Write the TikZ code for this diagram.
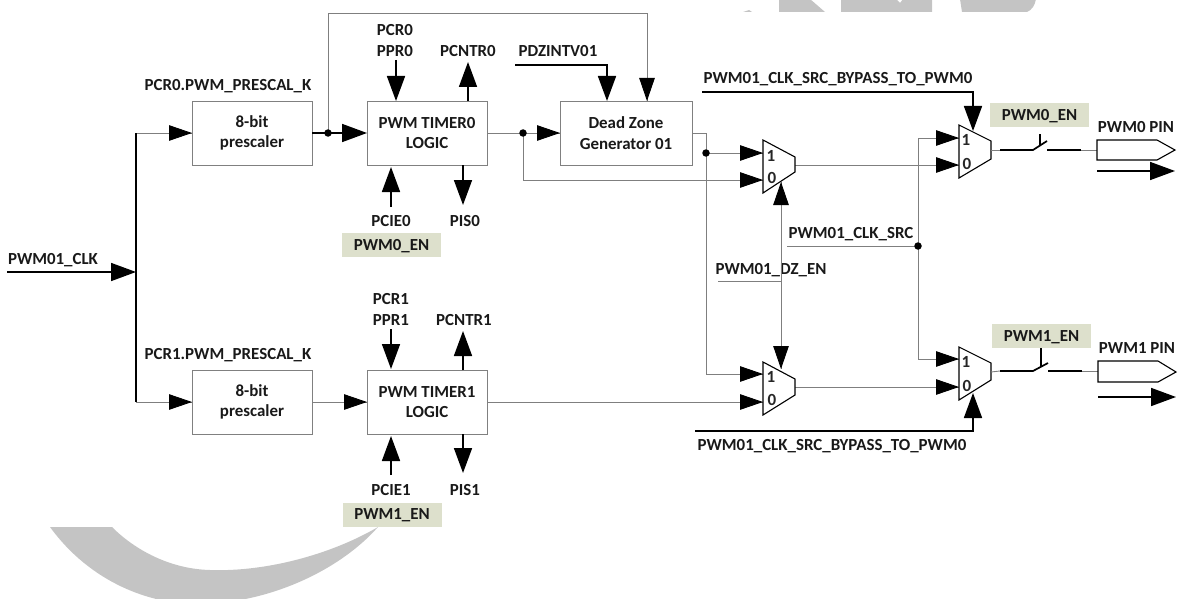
\documentclass[tikz,border=0pt]{standalone}
\usepackage{fontspec}
\setmainfont{Carlito}
\usetikzlibrary{arrows.meta,calc}
\definecolor{wirecol}{HTML}{7F7F7F}
\definecolor{boxcol}{HTML}{808080}
\definecolor{tagcol}{HTML}{DDE0CC}
\definecolor{markcol}{HTML}{C4C4C4}
\tikzset{
  lbl/.style={font=\fontsize{16.9}{18}\selectfont\bfseries,text=black!90,inner sep=0pt,outer sep=0pt,text depth=0pt},
  pinlbl/.style={font=\fontsize{17}{18}\selectfont\bfseries,text=black!85,inner sep=0pt},
  block/.style={draw=boxcol,line width=0.9pt,fill=white,align=center,font=\fontsize{16.9}{20.5}\selectfont\bfseries,text=black!90,inner sep=0pt,outer sep=0pt,minimum height=64pt},
  tag/.style={fill=tagcol,font=\fontsize{16.9}{18}\selectfont\bfseries,text=black!90,inner sep=0pt,outer sep=0pt,minimum height=24pt,minimum width=99pt,text depth=0pt},
  wire/.style={draw=wirecol,line width=0.9pt},
  bus/.style={draw=black,line width=1.7pt},
  tipL/.style={-{Triangle[length=25pt,width=18pt,black]}},
  tipS/.style={-{Triangle[length=23pt,width=15.5pt,black]}},
  muxbody/.style={draw=black,line width=1.1pt,fill=white,line join=miter},
  jdot/.style={circle,fill=black,inner sep=0pt,minimum size=7.5pt,outer sep=0pt},
  pinbody/.style={draw=black,line width=1.1pt},
  swtick/.style={draw=black,line width=1.1pt},
}
\begin{document}
\begin{tikzpicture}[x=1pt,y=-1pt]
\useasboundingbox (0,0) rectangle (1177,599);
% faint background artwork
\begin{scope}
\clip (0,0) rectangle (1177,599);
\fill[markcol] (50,527) .. controls (90,582) and (150,605) .. (200,604) .. controls (270,603) and (340,570) .. (378,527) .. controls (330,555) and (265,572) .. (210,570) .. controls (170,569) and (135,550) .. (112,527) -- cycle;
\fill[markcol] (779,-1) -- (779,12) -- (825,12) -- (810,-1) -- cycle;
\fill[markcol] (841,-1) -- (841,12) -- (932,12) -- (932,-1) -- (903,-1) -- (900,3) -- (896,-1) -- cycle;
\fill[markcol] (960,-1) -- (962,12) -- (1027,12) .. controls (1032,10) and (1035,5) .. (1036,-1) -- cycle;
\fill[markcol] (743,12) -- (749,10) -- (752,12) -- cycle;
\end{scope}

% blocks
\node[block,minimum width=120pt] (p0) at (252,133) {8-bit\\prescaler};
\node[block,minimum width=120pt] (t0) at (427,133) {PWM TIMER0\\LOGIC};
\node[block,minimum width=132pt] (dz) at (626,133) {Dead Zone\\Generator 01};
\node[block,minimum width=120pt] (p1) at (252,402) {8-bit\\prescaler};
\node[block,minimum width=120pt] (t1) at (427,402) {PWM TIMER1\\LOGIC};

% tags
\node[tag] (en0a) at (391.5,245) {PWM0\_EN};
\node[tag] (en1a) at (392,514.5) {PWM1\_EN};
\node[tag] (en0b) at (1039.5,115) {PWM0\_EN};
\node[tag] (en1b) at (1041.5,336) {PWM1\_EN};

% labels
\node[lbl] (lclk) at (53,259) {PWM01\_CLK};
\node[lbl] (lk0) at (228,85) {PCR0.PWM\_PRESCAL\_K};
\node[lbl] (lk1) at (228,354) {PCR1.PWM\_PRESCAL\_K};
\node[lbl] (lpcr0) at (395,30) {PCR0};
\node[lbl] (lppr0) at (395,51) {PPR0};
\node[lbl] (lcnt0) at (468,51) {PCNTR0};
\node[lbl] (lpdz) at (558,51) {PDZINTV01};
\node[lbl] (lcie0) at (391,221) {PCIE0};
\node[lbl] (lpis0) at (465,221) {PIS0};
\node[lbl] (lpcr1) at (391,299) {PCR1};
\node[lbl] (lppr1) at (391,320) {PPR1};
\node[lbl] (lcnt1) at (464,320) {PCNTR1};
\node[lbl] (lcie1) at (391,490) {PCIE1};
\node[lbl] (lpis1) at (465,490) {PIS1};
\node[lbl] (lby0) at (838,78) {PWM01\_CLK\_SRC\_BYPASS\_TO\_PWM0};
\node[lbl] (lby1) at (832,445) {PWM01\_CLK\_SRC\_BYPASS\_TO\_PWM0};
\node[lbl] (lsrc) at (851,233) {PWM01\_CLK\_SRC};
\node[lbl] (ldz) at (771,269) {PWM01\_DZ\_EN};
\node[lbl] (lpin0) at (1136,127) {PWM0 PIN};
\node[lbl] (lpin1) at (1137,348) {PWM1 PIN};

% coordinates
\coordinate (clkin) at (7,272);
\coordinate (bustop) at (136,133);
\coordinate (busmid) at (136,272);
\coordinate (busbot) at (136,402);
\coordinate (pcr0s) at (396,60);
\coordinate (cnt0e) at (468,62);
\coordinate (cie0s) at (391,207);
\coordinate (pis0e) at (463,205);
\coordinate (pcr1s) at (391,329);
\coordinate (cnt1e) at (463,331);
\coordinate (cie1s) at (391,475);
\coordinate (pis1e) at (463,473);
\coordinate (pdzs) at (515,65);
\coordinate (pdzc) at (607,65);
\coordinate (fbtopl) at (328,13);
\coordinate (fbtopr) at (647,13);
\coordinate (lowb) at (523,180);
\coordinate (dzc) at (706,133);
\coordinate (dzlow) at (706,374);
\coordinate (sel) at (781,281);
\coordinate (selfree) at (718,281);
\coordinate (srcfree) at (787,246);
\coordinate (srctop) at (918,138);
\coordinate (srcbot) at (918,359);
\coordinate (by0s) at (702,92);
\coordinate (by0c) at (973,92);
\coordinate (by1s) at (695,431);
\coordinate (by1c) at (973,431);

% muxes: pins named for the connectors
\coordinate (mAi1) at (763,153); \coordinate (mAi0) at (763,180); \coordinate (mAo) at (795,165); \coordinate (mAs) at (781,182);
\coordinate (mBi1) at (763,374); \coordinate (mBi0) at (763,402); \coordinate (mBo) at (795,387); \coordinate (mBs) at (781,369);
\coordinate (mCi1) at (959,138); \coordinate (mCi0) at (959,165); \coordinate (mCo) at (991,150); \coordinate (mCs) at (973,131);
\coordinate (mDi1) at (959,359); \coordinate (mDi0) at (959,387); \coordinate (mDo) at (991,372); \coordinate (mDs) at (973,393);

% thin wires
\draw[wire] (t0.east) -- (dz.west);
\draw[wire] (p1.east) -- (t1.west);
\draw[wire] (t1.east) -- (t1.east -| mBi0);
\draw[wire] (dz.east) -- (dzc) -- (dzlow) -- (mBi1);
\draw[wire] (dzc |- mAi1) -- (mAi1);
\draw[wire] (t0.east -| lowb) -- (lowb) -- (mAi0);
\draw[wire] (mAo) -- (mCi0);
\draw[wire] (mBo) -- (mDi0);
\draw[wire] (srcfree) -- (srcfree -| srctop);
\draw[wire] (srctop) -- (mCi1);
\draw[wire] (srctop) -- (srcbot) -- (mDi1);
\draw[wire] (mAs) -- (mBs);
\draw[wire] (selfree) -- (sel);
\draw[wire] (bustop) -- (p0.west);
\draw[wire] (busbot) -- (p1.west);
\draw[wire] (fbtopl |- p0.east) -- (fbtopl) -- (fbtopr) -- (fbtopr |- dz.north);

% thick wires
\draw[bus] (bustop) -- (busbot);

% arrow tips
\draw[bus,tipL] (clkin) -- (busmid);
\draw[wire,tipS] ($(p0.west)+(-30,0)$) -- (p0.west);
\draw[wire,tipS] ($(p1.west)+(-30,0)$) -- (p1.west);
\draw[bus,tipL] (p0.east) -- (t0.west);
\draw[wire,tipS] ($(t1.west)+(-30,0)$) -- (t1.west);
\draw[wire,tipS] ($(dz.west)+(-30,0)$) -- (dz.west);
\draw[wire,tipS] ($(fbtopr |- dz.north)+(0,-30)$) -- (fbtopr |- dz.north);
\draw[bus,tipL] (pcr0s) -- (pcr0s |- t0.north);
\draw[bus,tipL] (cnt0e |- t0.north) -- (cnt0e);
\draw[bus,tipL] (cie0s) -- ($(cie0s |- t0.south)+(0,2)$);
\draw[bus,tipL] (pis0e |- t0.south) -- (pis0e);
\draw[bus,tipL] (pcr1s) -- ($(pcr1s |- t1.north)+(0,-1)$);
\draw[bus,tipL] (cnt1e |- t1.north) -- (cnt1e);
\draw[bus,tipL] (cie1s) -- ($(cie1s |- t1.south)+(0,2)$);
\draw[bus,tipL] (pis1e |- t1.south) -- (pis1e);
\draw[bus,tipL] (pdzs) -- (pdzc) -- (pdzc |- dz.north);
\draw[bus,tipL] (by0s) -- (by0c) -- (mCs);
\draw[bus,tipL] (by1s) -- (by1c) -- (mDs);

% mux bodies
\draw[muxbody] (763,140) -- (795,157) -- (795,172) -- (763,193) -- cycle;
\draw[muxbody] (763,362) -- (795,379) -- (795,395) -- (763,415) -- cycle;
\draw[muxbody] (959,125) -- (991,141) -- (991,159) -- (959,178) -- cycle;
\draw[muxbody] (959,347) -- (991,363) -- (991,380) -- (959,400) -- cycle;

% arrows into the muxes
\draw[wire,tipS] ($(mAi1)+(-30,0)$) -- (mAi1);
\draw[wire,tipS] ($(mAi0)+(-30,0)$) -- (mAi0);
\draw[wire,tipS] ($(mBi1)+(-30,0)$) -- (mBi1);
\draw[wire,tipS] ($(mBi0)+(-30,0)$) -- (mBi0);
\draw[wire,tipS] ($(mCi1)+(-30,0)$) -- (mCi1);
\draw[wire,tipS] ($(mCi0)+(-30,0)$) -- (mCi0);
\draw[wire,tipS] ($(mDi1)+(-30,0)$) -- (mDi1);
\draw[wire,tipS] ($(mDi0)+(-30,0)$) -- (mDi0);
\draw[wire,tipS] ($(mAs)+(0,30)$) -- (mAs);
\draw[wire,tipS] ($(mBs)+(0,-30)$) -- (mBs);

% mux digits
\node[pinlbl] (dA1) at (771,156) {1};
\node[pinlbl] (dA0) at (772,178) {0};
\node[pinlbl] (dB1) at (771,377) {1};
\node[pinlbl] (dB0) at (772,400) {0};
\node[pinlbl] (dC1) at (966,140) {1};
\node[pinlbl] (dC0) at (967,164) {0};
\node[pinlbl] (dD1) at (966,362) {1};
\node[pinlbl] (dD0) at (967,386) {0};

% junction dots
\node[jdot] (j1) at (328,133) {};
\node[jdot] (j2) at (523,133) {};
\node[jdot] (j3) at (706,153) {};
\node[jdot] (j4) at (918,246) {};

% switches and pins
\coordinate (sw0a) at (1000,150); \coordinate (sw0b) at (1033,150); \coordinate (sw0c) at (1047,141);
\coordinate (sw0d) at (1047,150); \coordinate (sw0e) at (1081,150); \coordinate (pin0) at (1097,150);
\coordinate (sw1a) at (1000,371); \coordinate (sw1b) at (1033,371); \coordinate (sw1c) at (1048,363);
\coordinate (sw1d) at (1048,371); \coordinate (sw1e) at (1082,371); \coordinate (pin1) at (1098,371);
\draw[wire] (mCo) -- (sw0a);
\draw[wire] (sw0e) -- (pin0);
\draw[wire] (mDo) -- (sw1a);
\draw[wire] (sw1e) -- (pin1);
\draw[bus] (sw0a) -- (sw0b) -- (sw0c);
\draw[bus] (sw0d) -- (sw0e);
\draw[bus] (sw1a) -- (sw1b) -- (sw1c);
\draw[bus] (sw1d) -- (sw1e);
\draw[swtick] (1040,134) -- (1040,146);
\draw[swtick] (1041,348) -- (1041,367);
\draw[pinbody] (1097,140) -- (1157,140) -- (1175,150) -- (1157,160) -- (1097,160) -- cycle;
\draw[pinbody] (1098,361) -- (1158,361) -- (1176,372) -- (1158,382) -- (1098,382) -- cycle;
\coordinate (dir0a) at (1097,171); \coordinate (dir0b) at (1175,171);
\coordinate (dir1a) at (1098,397); \coordinate (dir1b) at (1176,397);
\draw[bus,tipL] (dir0a) -- (dir0b);
\draw[bus,tipL] (dir1a) -- (dir1b);
\end{tikzpicture}
\end{document}
